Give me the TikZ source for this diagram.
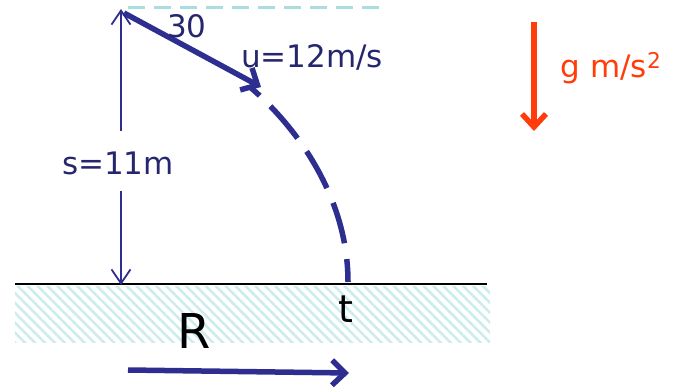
\documentclass[tikz,border=0pt]{standalone}
\usepackage{fontspec}
\setmainfont{DejaVu Sans}
\usetikzlibrary{arrows.meta,patterns.meta}
\definecolor{navy}{RGB}{46,46,145}
\definecolor{txtnavy}{RGB}{38,38,110}
\definecolor{hatch}{RGB}{170,222,222}
\definecolor{hatchfill}{RGB}{205,236,236}
\definecolor{gred}{RGB}{255,60,10}
\tikzset{
  thinarrow/.style={navy, line width=1.8pt, -{Straight Barb[length=14pt,width=19pt,line width=1.8pt]}},
  thickarrow/.style={navy, line width=5.5pt, -{Straight Barb[length=13pt,width=25pt,line width=5.5pt]}},
  lbl/.style={text=txtnavy, font=\fontsize{31}{31}\selectfont, inner sep=0pt},
  blk/.style={text=black, inner sep=0pt}
}
\begin{document}
\begin{tikzpicture}[x=1pt,y=-1pt]
\path[use as bounding box] (0,0) rectangle (676,387);
% ground hatch
\fill[pattern={Lines[angle=-45,distance=7pt,line width=2.6pt]}, pattern color=hatchfill] (15,286) rectangle (490,342);
\coordinate (g1) at (15,284);
\coordinate (g2) at (487,284);
\draw[black, line width=1.6pt] (g1) -- (g2);
% top dashed reference line
\coordinate (h1) at (128,8);
\coordinate (h2) at (383,8);
\draw[hatch, line width=3pt, dash pattern=on 17pt off 9pt] (h1) -- (h2);
% height arrow
\node[lbl] (s) at (118,163) {s=11m};
\coordinate (top) at (121,9);
\coordinate (bot) at (121,285);
\draw[thinarrow] (121,131) -- (top);
\draw[thinarrow] (121,191) -- (bot);
% velocity
\coordinate (v0) at (124,13);
\coordinate (v1) at (261,87);
\draw[thickarrow] (v0) -- (v1);
\node[lbl] (ang) at (187,26) {30};
\node[lbl] (u) at (312,57) {u=12m/s};
% trajectory
\coordinate (tr0) at (250,87);
\coordinate (land) at (348,282);
\draw[navy, line width=5.5pt, dash pattern=on 13pt off 15pt on 42pt off 16pt on 42pt off 16pt on 42pt off 16pt on 42pt off 16pt] (tr0) .. controls (300,130) and (348,200) .. (land);
\node[blk, font=\fontsize{38}{38}\selectfont] (t) at (346,309) {t};
\node[blk, font=\fontsize{48}{48}\selectfont] (R) at (194,331) {R};
% range arrow
\coordinate (r0) at (128,370);
\coordinate (r1) at (349,373);
\draw[thickarrow] (r0) -- (r1);
% gravity
\coordinate (gt) at (534,22);
\coordinate (gb) at (534,131);
\draw[gred, line width=5.5pt, -{Straight Barb[length=13pt,width=24pt,line width=5.5pt]}] (gt) -- (gb);
\node[text=gred, font=\fontsize{31}{31}\selectfont, inner sep=0pt] (g) at (611,68) {g m/s\textsuperscript{2}};
\end{tikzpicture}
\end{document}
